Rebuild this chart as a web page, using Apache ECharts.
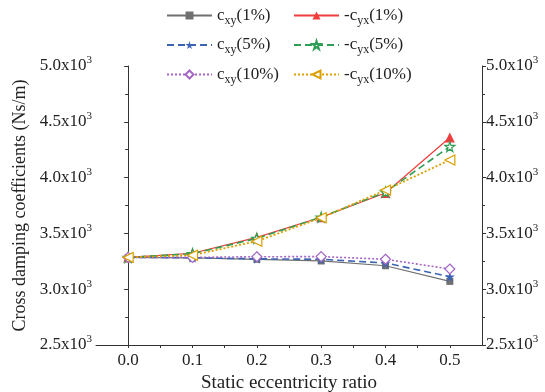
<!DOCTYPE html>
<html>
<head>
<meta charset="utf-8">
<script src="https://cdn.jsdelivr.net/npm/echarts@6/dist/echarts.min.js"></script>
<style>
  html, body { margin: 0; padding: 0; background: #fff; }
  #chart { width: 545px; height: 392px; }
</style>
</head>
<body>
<div id="chart"></div>
<script>
// Static eccentricity ratio (x values)
const eccentricity = [0.0, 0.1, 0.2, 0.3, 0.4, 0.5];

// Cross damping coefficients (Ns/m)
const cxy1   = [3285, 3280, 3268, 3253, 3210, 3070];
const cxy5   = [3285, 3282, 3272, 3268, 3235, 3112];
const cxy10  = [3285, 3285, 3291, 3292, 3268, 3181];
const ncyx1  = [3285, 3322, 3465, 3645, 3862, 4360];
const ncyx5  = [3285, 3318, 3455, 3645, 3870, 4278];
const ncyx10 = [3285, 3305, 3430, 3640, 3888, 4158];

// Legend names: [prefix, subscript, suffix]
const seriesNames = [
  ['c', 'xy', '(1%)'],
  ['-c', 'yx', '(1%)'],
  ['c', 'xy', '(5%)'],
  ['-c', 'yx', '(5%)'],
  ['c', 'xy', '(10%)'],
  ['-c', 'yx', '(10%)']
];

const FONT = 'Liberation Serif';
const TEXT = '#222';
const STAR = 'path://M50,0 L61,35 L98,35 L68,57 L79,91 L50,70 L21,91 L32,57 L2,35 L39,35 Z';

const nameOf = p => p.join('|');
const pairs = ys => eccentricity.map((x, i) => [x, ys[i]]);

function yLabel(v) {
  return '{a|' + (v / 1000).toFixed(1) + 'x10}{s|3}';
}

// Tick labels with a superscript exponent
const richText = {
  a: { fontFamily: FONT, fontSize: 17, color: TEXT, lineHeight: 22, verticalAlign: 'middle' },
  s: { fontFamily: FONT, fontSize: 11, color: TEXT, lineHeight: 14, verticalAlign: 'top' }
};
// Legend labels with a subscript
const legendRich = {
  a: { fontFamily: FONT, fontSize: 17, color: TEXT, lineHeight: 22, verticalAlign: 'middle' },
  b: { fontFamily: FONT, fontSize: 12, color: TEXT, lineHeight: 12, verticalAlign: 'bottom' }
};

function makeSeries(name, data, color, lineType, lineWidth, symbol, size, hollow, rotate) {
  return {
    name: nameOf(name),
    type: 'line',
    data: pairs(data),
    symbol: symbol,
    symbolSize: size,
    symbolRotate: rotate || 0,
    lineStyle: { color: color, width: lineWidth, type: lineType },
    itemStyle: hollow
      ? { color: '#fff', borderColor: color, borderWidth: 1.2 }
      : { color: color, borderColor: color, borderWidth: 0 },
    emphasis: { disabled: true },
    animation: false
  };
}

const series = [
  makeSeries(seriesNames[0], cxy1,   '#707070', 'solid',  1.2, 'rect',     7,  false),
  makeSeries(seriesNames[1], ncyx1,  '#f03c3c', 'solid',  1.2, 'triangle', 10, false),
  makeSeries(seriesNames[2], cxy5,   '#3c64b4', [7, 4],   1.6, STAR,       10, false),
  makeSeries(seriesNames[3], ncyx5,  '#2e9e55', [7, 4],   1.6, STAR,       10, true),
  makeSeries(seriesNames[4], cxy10,  '#a566c6', [2, 2],   1.6, 'diamond',  10, true),
  makeSeries(seriesNames[5], ncyx10, '#dba000', [2, 2],   1.8, 'triangle', 10, true, 90)
];

function legendFormatter(name) {
  const p = name.split('|');
  return '{a|' + p[0] + '}{b|' + p[1] + '}{a|' + p[2] + '}';
}

function legendBlock(left, names) {
  return {
    orient: 'vertical',
    left: left,
    top: 2,
    itemWidth: 45,
    itemHeight: 10,
    itemGap: 10,
    data: names.map(nameOf),
    formatter: legendFormatter,
    textStyle: { rich: legendRich },
    selectedMode: false
  };
}

const axisColor = '#333';

const yAxisBase = {
  type: 'value',
  min: 2500,
  max: 5000,
  interval: 500,
  axisLine: { show: true, lineStyle: { color: axisColor, width: 1 } },
  axisTick: { show: true, inside: false, length: 4, lineStyle: { color: axisColor } },
  minorTick: { show: true, splitNumber: 2, length: 3, lineStyle: { color: axisColor } },
  splitLine: { show: false },
  axisLabel: { formatter: yLabel, rich: richText, margin: 4 }
};

const option = {
  backgroundColor: '#fff',
  animation: false,
  grid: { left: 96, right: 63, top: 66, bottom: 47, containLabel: false, outerBoundsMode: 'none' },
  legend: [
    legendBlock(161, [seriesNames[0], seriesNames[2], seriesNames[4]]),
    legendBlock(288, [seriesNames[1], seriesNames[3], seriesNames[5]])
  ],
  xAxis: {
    type: 'value',
    min: -0.05,
    max: 0.55,
    interval: 0.05,
    name: 'Static eccentricity ratio',
    nameLocation: 'middle',
    nameGap: 28,
    nameTextStyle: { fontFamily: FONT, fontSize: 19, color: TEXT },
    axisLine: { show: true, onZero: false, lineStyle: { color: axisColor, width: 1 } },
    axisTick: { show: true, inside: false, length: 3, lineStyle: { color: axisColor } },
    splitLine: { show: false },
    axisLabel: {
      fontFamily: FONT, fontSize: 17, color: TEXT, margin: 7,
      showMinLabel: false, showMaxLabel: false,
      formatter: v => {
        const k = Math.round(v * 100);
        return (k % 10 === 0 && k >= 0 && k <= 50) ? (k / 100).toFixed(1) : '';
      }
    }
  },
  yAxis: [
    Object.assign({}, yAxisBase, {
      position: 'left',
      name: 'Cross damping coefficients (Ns/m)',
      nameLocation: 'middle',
      nameGap: 65,
      nameTextStyle: { fontFamily: FONT, fontSize: 18, color: TEXT }
    }),
    Object.assign({}, yAxisBase, { position: 'right' })
  ],
  series: series
};

const chart = echarts.init(document.getElementById('chart'), null, { renderer: 'canvas' });
chart.setOption(option);
</script>
</body>
</html>
